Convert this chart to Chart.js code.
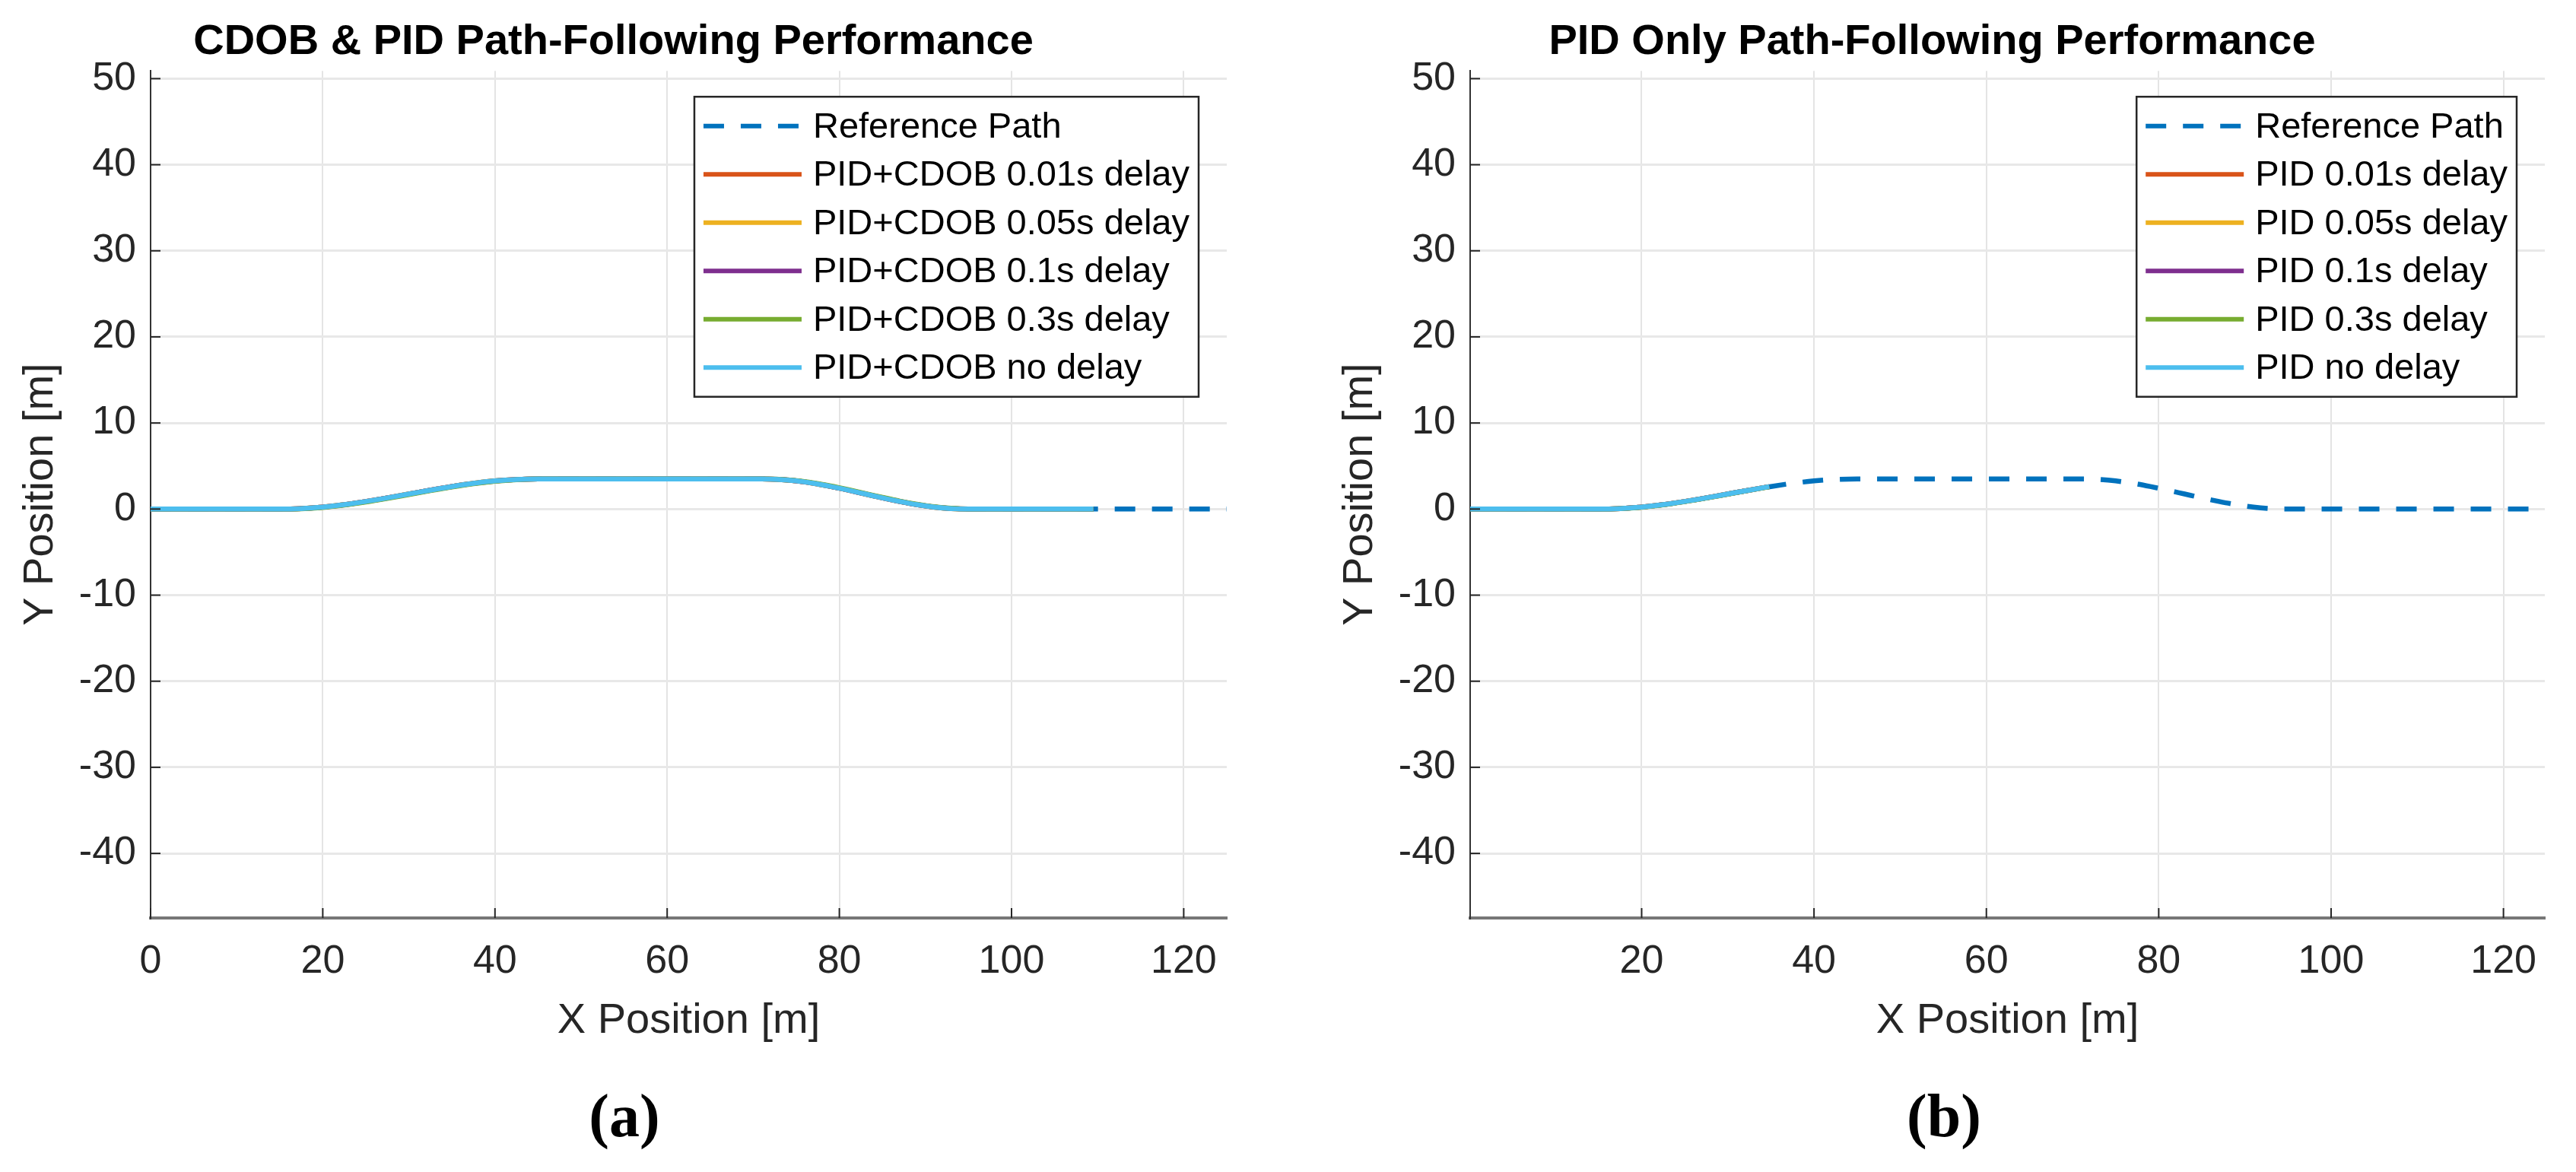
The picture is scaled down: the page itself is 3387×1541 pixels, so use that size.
<!DOCTYPE html>
<html>
<head>
<meta charset="utf-8">
<script src="https://cdn.jsdelivr.net/npm/chart.js@4.4.1/dist/chart.umd.min.js"></script>
<style>
html,body{margin:0;padding:0;background:#fff;}
body{width:3387px;height:1541px;position:relative;overflow:hidden;}
canvas{position:absolute;top:0;}
.cap{position:absolute;top:1420px;width:200px;text-align:center;font-family:"Liberation Serif","Times New Roman",serif;font-size:80px;font-weight:bold;line-height:94px;color:#000;}
</style>
</head>
<body>
<canvas id="c1" width="1652" height="1541" style="left:0px"></canvas>
<canvas id="c2" width="1652" height="1541" style="left:1735px"></canvas>
<div class="cap" style="left:721px">(a)</div>
<div class="cap" style="left:2456px">(b)</div>
<script>
// ---------- data ----------
const xTicks = [0, 20, 40, 60, 80, 100, 120];
const yTicks = [-40, -30, -20, -10, 0, 10, 20, 30, 40, 50];

// reference path (same in both panels)
const refX = [0,5,10,15,17.5,20,22.5,25,27.5,30,32.5,35,37.5,40,42.5,45,50,55,60,65,71,73,75,77,79,81,83,85,87,89,91,93,95,100,105,110,115,120,125];
const refY = [0,0,0,0,0.06,0.23,0.51,0.88,1.30,1.75,2.20,2.62,2.99,3.27,3.44,3.50,3.50,3.50,3.50,3.50,3.50,3.44,3.27,2.99,2.62,2.20,1.75,1.30,0.88,0.51,0.23,0.06,0,0,0,0,0,0,0];

// panel (a): PID + CDOB
const cdobX      = [0,5,10,15,17.5,20,22.5,25,27.5,30,32.5,35,37.5,40,42.5,45,50,55,60,65,71,73,75,77,79,81,83,85,87,89,91,93,95,100,105,109.5];
const cdob001Y   = [0,0,0,0,0.06,0.23,0.51,0.88,1.30,1.75,2.20,2.62,2.99,3.27,3.44,3.50,3.50,3.50,3.50,3.50,3.50,3.44,3.27,2.99,2.62,2.20,1.75,1.30,0.88,0.51,0.23,0.06,0,0,0,0];
const cdob005Y   = [0,0,0,0,0.06,0.23,0.51,0.88,1.30,1.75,2.20,2.62,2.99,3.27,3.44,3.50,3.50,3.50,3.50,3.50,3.50,3.44,3.27,2.99,2.62,2.20,1.75,1.30,0.88,0.51,0.23,0.06,0,0,0,0];
const cdob01Y    = [0,0,0,0,0.05,0.22,0.50,0.87,1.29,1.74,2.19,2.61,2.98,3.26,3.44,3.50,3.50,3.50,3.50,3.50,3.50,3.45,3.28,3.00,2.63,2.21,1.76,1.31,0.89,0.52,0.24,0.07,0.01,0,0,0];
const cdob03Y    = [0,0,0,0,0.04,0.19,0.46,0.82,1.24,1.69,2.14,2.57,2.95,3.24,3.42,3.50,3.50,3.50,3.50,3.50,3.50,3.46,3.31,3.04,2.68,2.26,1.81,1.36,0.93,0.56,0.27,0.09,0.01,0,0,0];
const cdobNoY    = [0,0,0,0,0.06,0.23,0.51,0.88,1.30,1.75,2.20,2.62,2.99,3.27,3.44,3.50,3.50,3.50,3.50,3.50,3.50,3.44,3.27,2.99,2.62,2.20,1.75,1.30,0.88,0.51,0.23,0.06,0,0,0,0];

// panel (b): PID only
const pidX      = [0,5,10,15,17.5,20,22.5,25,27.5,30,32.5,34.8];
const pid001Y   = [0,0,0,0,0.06,0.23,0.51,0.88,1.30,1.75,2.20,2.60];
const pid005Y   = [0,0,0,0,0.06,0.23,0.51,0.88,1.30,1.75,2.20,2.60];
const pid01Y    = [0,0,0,0,0.06,0.23,0.51,0.88,1.30,1.75,2.20,2.60];
const pid03Y    = [0,0,0,0,0.05,0.21,0.49,0.86,1.28,1.73,2.18,2.58];
const pidNoY    = [0,0,0,0,0.06,0.23,0.51,0.88,1.30,1.75,2.20,2.60];

// ---------- styling ----------
const FONT = "'Liberation Sans', Arial, Helvetica, sans-serif";
const C = {blue:'#0072BD', orange:'#D95319', yellow:'#EDB120', purple:'#7E2F8E', green:'#77AC30', cyan:'#4DBEEE'};
const DASH = [27, 22];

function pts(xs, ys){ return xs.map((x, i) => ({x: x, y: ys[i]})); }

const innerTicks = {
  id: 'innerTicks',
  afterDraw(chart) {
    const {ctx, chartArea: ca, scales: {x, y}} = chart;
    ctx.save();
    ctx.strokeStyle = '#262626';
    ctx.lineWidth = 2;
    x.ticks.forEach(t => {
      const px = x.getPixelForValue(t.value);
      ctx.beginPath(); ctx.moveTo(px, ca.bottom); ctx.lineTo(px, ca.bottom - 13); ctx.stroke();
    });
    y.ticks.forEach(t => {
      const py = y.getPixelForValue(t.value);
      ctx.beginPath(); ctx.moveTo(ca.left, py); ctx.lineTo(ca.left + 13, py); ctx.stroke();
    });
    ctx.restore();
  }
};

const boxLegend = {
  id: 'boxLegend',
  afterDraw(chart) {
    const {ctx, chartArea: ca} = chart;
    const ds = chart.data.datasets;
    ctx.save();
    ctx.font = '47px ' + FONT;
    const maxW = Math.max(...ds.map(d => ctx.measureText(d.label).width));
    const textOff = 156, rightPad = 12, topPad = 38.5, rowH = 63.5;
    const w = textOff + maxW + rightPad;
    const h = topPad * 2 + rowH * (ds.length - 1);
    const right = ca.right - 37;
    const left = right - w;
    const top = ca.top + 34;
    ctx.fillStyle = '#fff';
    ctx.fillRect(left, top, w, h);
    ctx.strokeStyle = '#262626';
    ctx.lineWidth = 2.5;
    ctx.strokeRect(left, top, w, h);
    ds.forEach((d, i) => {
      const yy = top + topPad + i * rowH;
      ctx.strokeStyle = d.borderColor;
      ctx.lineWidth = 6;
      ctx.lineCap = 'butt';
      ctx.setLineDash(d.borderDash || []);
      ctx.beginPath(); ctx.moveTo(left + 12, yy); ctx.lineTo(left + 141, yy); ctx.stroke();
      ctx.setLineDash([]);
      ctx.fillStyle = '#000';
      ctx.textBaseline = 'middle';
      ctx.textAlign = 'left';
      ctx.fillText(d.label, left + textOff, yy + 2);
    });
    ctx.restore();
  }
};

function makeChart(id, cfg) {
  return new Chart(document.getElementById(id), {
    type: 'scatter',
    data: {
      datasets: cfg.series.map(s => ({
        label: s.label,
        data: pts(s.x, s.y),
        showLine: true,
        pointRadius: 0,
        pointHoverRadius: 0,
        borderColor: s.color,
        backgroundColor: s.color,
        borderWidth: 6.5,
        borderDash: s.dash || [],
        borderCapStyle: 'butt',
        borderJoinStyle: 'round',
        cubicInterpolationMode: 'monotone',
        fill: false,
        order: s.order
      }))
    },
    options: {
      responsive: false,
      animation: false,
      devicePixelRatio: 1,
      layout: {padding: {top: 0, left: 0, right: cfg.padRight, bottom: 154}},
      plugins: {
        legend: {display: false},
        tooltip: {enabled: false},
        title: {
          display: true, text: cfg.title, color: '#000',
          font: {size: 56, weight: 'bold', family: FONT, lineHeight: 1.2},
          padding: {top: 22, bottom: 4}
        }
      },
      scales: {
        x: {
          type: 'linear', position: 'bottom', min: cfg.xMin, max: cfg.xMax,
          afterBuildTicks: s => { s.ticks = xTicks.filter(v => v >= s.min && v <= s.max).map(v => ({value: v})); },
          afterFit: s => { s.height = 180; },
          grid: {color: '#e4e4e4', lineWidth: 2, drawTicks: false},
          border: {display: true, color: '#777', width: 4},
          ticks: {padding: 26, color: '#262626', font: {size: 52, family: FONT}, maxRotation: 0, autoSkip: false},
          title: {display: true, text: 'X Position [m]', color: '#262626', font: {size: 56, family: FONT, lineHeight: 1.2}, padding: {top: 0, bottom: 11}}
        },
        y: {
          type: 'linear', position: 'left', min: -47.5, max: 50.9,
          afterBuildTicks: s => { s.ticks = yTicks.map(v => ({value: v})); },
          afterFit: s => { s.width = 198; },
          grid: {color: '#e8e8e8', lineWidth: 3, drawTicks: false},
          border: {display: true, color: '#333', width: 2},
          ticks: {padding: 19, color: '#262626', font: {size: 52, family: FONT}, autoSkip: false},
          title: {display: true, text: 'Y Position [m]', color: '#262626', font: {size: 56, family: FONT, lineHeight: 1.2}, padding: {top: 20, bottom: 0}}
        }
      }
    },
    plugins: [innerTicks, boxLegend]
  });
}

makeChart('c1', {
  title: 'CDOB & PID Path-Following Performance',
  xMin: 0, xMax: 125, padRight: 39,
  series: [
    {label: 'Reference Path',          x: refX,  y: refY,     color: C.blue,   dash: DASH, order: 5},
    {label: 'PID+CDOB 0.01s delay',    x: cdobX, y: cdob001Y, color: C.orange, order: 4},
    {label: 'PID+CDOB 0.05s delay',    x: cdobX, y: cdob005Y, color: C.yellow, order: 3},
    {label: 'PID+CDOB 0.1s delay',     x: cdobX, y: cdob01Y,  color: C.purple, order: 2},
    {label: 'PID+CDOB 0.3s delay',     x: cdobX, y: cdob03Y,  color: C.green,  order: 1},
    {label: 'PID+CDOB no delay',       x: cdobX, y: cdobNoY,  color: C.cyan,   order: 0}
  ]
});

makeChart('c2', {
  title: 'PID Only Path-Following Performance',
  xMin: 0.1, xMax: 124.8, padRight: 41,
  series: [
    {label: 'Reference Path',     x: refX, y: refY,    color: C.blue,   dash: DASH, order: 5},
    {label: 'PID 0.01s delay',    x: pidX, y: pid001Y, color: C.orange, order: 4},
    {label: 'PID 0.05s delay',    x: pidX, y: pid005Y, color: C.yellow, order: 3},
    {label: 'PID 0.1s delay',     x: pidX, y: pid01Y,  color: C.purple, order: 2},
    {label: 'PID 0.3s delay',     x: pidX, y: pid03Y,  color: C.green,  order: 1},
    {label: 'PID no delay',       x: pidX, y: pidNoY,  color: C.cyan,   order: 0}
  ]
});
</script>
</body>
</html>
